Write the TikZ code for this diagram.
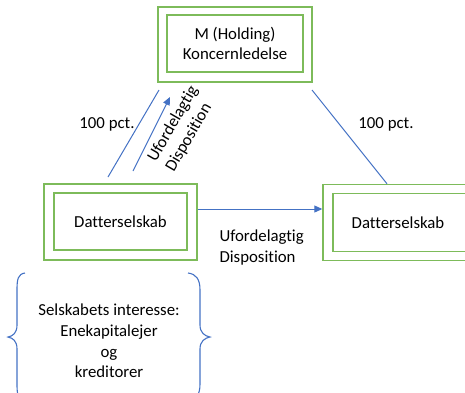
\documentclass[tikz,border=0pt]{standalone}
\usepackage{fontspec}
\setmainfont[Ligatures=NoCommon]{Carlito}
\usetikzlibrary{arrows.meta}
\definecolor{boxgreen}{HTML}{7DBB5A}
\definecolor{linkblue}{HTML}{4472C4}

\begin{document}
\begin{tikzpicture}[
  x = 1pt, y = -1pt,
  every node/.style = {font = \fontsize{16.8}{20.7}\selectfont, text = black},
  outerbox/.style = {draw = boxgreen, line width = 1.4pt, inner sep = 0pt},
  innerbox/.style = {draw = boxgreen, line width = 1.4pt, inner sep = 0pt, align = center},
  link/.style = {draw = linkblue, line width = 1pt},
  arrowlink/.style = {link, -{Triangle[length = 8pt, width = 7pt]}},
  bracket/.style = {draw = linkblue, line width = 1.1pt},
  ]
  \useasboundingbox (0,0) rectangle (465,392);
  \clip (0,0) rectangle (465,392);

  % boxes
  \node[outerbox, minimum width = 154pt, minimum height = 75pt] (holdingO) at (235,44.5) {};
  \node[innerbox, minimum width = 136pt, minimum height = 57pt] (holding) at (235,43.5)
       {M (Holding)\\Koncernledelse};
  \node[outerbox, minimum width = 153pt, minimum height = 76pt] (leftO) at (120.5,222) {};
  \node[innerbox, minimum width = 133pt, minimum height = 57pt] (left) at (120.5,221.5) {Datterselskab};
  \node[outerbox, minimum width = 156pt, minimum height = 76pt] (rightO) at (401,222.5) {};
  \node[innerbox, minimum width = 136pt, minimum height = 58pt] (right) at (401,222.5) {};
  \node (rightText) at (398,222.5) {Datterselskab};

  % free ends of the connectors
  \coordinate (ownA) at (108,177);
  \coordinate (ownB) at (159,90);
  \coordinate (dispA) at (133,171);
  \coordinate (dispB) at (170,97);
  \coordinate (ownC) at (312,90);
  \coordinate (flowA) at (leftO.east |- 0,209);

  \draw[link] (ownA) -- (ownB);
  \draw[arrowlink] (dispA) -- (dispB);
  \draw[link] (ownC) -- ([xshift = -14pt]rightO.north);
  \draw[arrowlink] (flowA) -- (flowA -| rightO.west);

  % labels
  \node (pctL) at (107,124) {100 pct.};
  \node (pctR) at (386,124) {100 pct.};
  \node[rotate = 60, align = left] (dispUp) at (182,129) {Ufordelagtig\\Disposition};
  \node[anchor = west, align = left] (dispRight) at (216,247.5) {Ufordelagtig\\Disposition};

  % braces
  \draw[bracket] (25,273) .. controls (18,274) and (17,279) .. (17,290) -- (17,325)
    .. controls (17,333) and (13,336) .. (8,337)
    .. controls (13,338) and (17,341) .. (17,349) -- (17,384)
    .. controls (17,395) and (18,400) .. (25,401);
  \draw[bracket] (188,273) .. controls (196,274) and (200,279) .. (200,290) -- (200,325)
    .. controls (200,333) and (205,336) .. (210,337)
    .. controls (205,338) and (200,341) .. (200,349) -- (200,384)
    .. controls (200,395) and (196,400) .. (188,401);
  \node[align = center] (interest) at (109,341)
       {Selskabets interesse:\\Enekapitalejer\\og\\kreditorer};
\end{tikzpicture}
\end{document}
